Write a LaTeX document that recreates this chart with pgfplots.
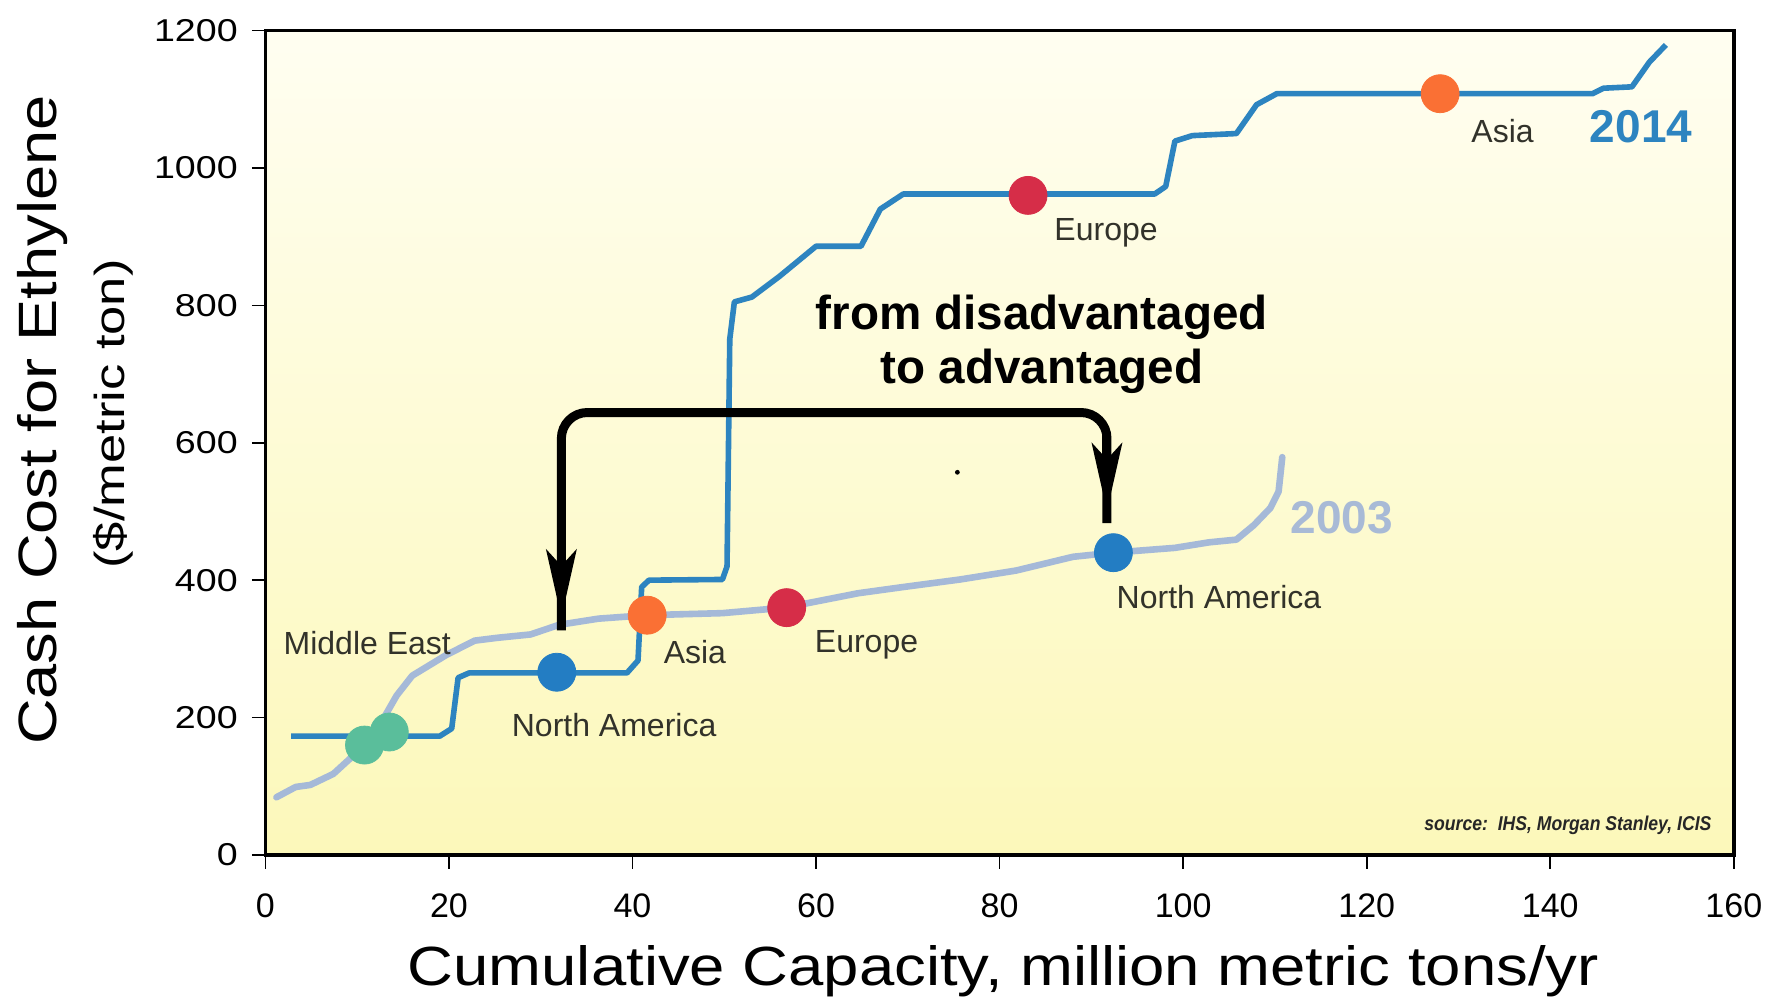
\documentclass[border=0pt]{standalone}
\usepackage{fontspec}
\setmainfont{Liberation Sans}
\newfontfamily\ytfont[FakeStretch=1.19]{Liberation Sans}
\newfontfamily\xlfont[FakeStretch=1.15]{Liberation Sans}
\newfontfamily\ylfont[FakeStretch=1.17]{Liberation Sans}
\newfontfamily\ylbfont[FakeStretch=1.25]{Liberation Sans}
\newfontfamily\srcfont[FakeStretch=0.88]{Liberation Sans}
\usepackage{pgfplots}
\pgfplotsset{compat=1.18}
\usetikzlibrary{arrows.meta}
\definecolor{bg top}{RGB}{255,254,241}
\definecolor{bg bot}{RGB}{252,248,186}
\definecolor{line14}{RGB}{45,132,192}
\definecolor{line03}{RGB}{165,185,216}
\definecolor{dotblue}{RGB}{35,125,195}
\definecolor{dotorange}{RGB}{250,112,52}
\definecolor{dotred}{RGB}{214,45,72}
\definecolor{dotgreen}{RGB}{90,190,155}
\definecolor{lbl}{RGB}{50,50,42}
\definecolor{y14}{RGB}{45,132,192}
\definecolor{y03}{RGB}{168,186,214}

\pgfplotstableread{
x y
2.8 173
19 173
20.3 184
21 258
22.2 265
39.4 265
40.6 283
41 390
41.8 400
49.8 401
50.3 420
50.6 751
51.1 805
53 812
56 842
60 886
64.9 886
67 940
69.5 962
96.9 962
98.1 973
99.1 1039
101 1047
105.8 1050
108 1092
110.2 1108
144.6 1108
145.8 1116
148.9 1118
150.8 1154
152.6 1179
}\curveA

\pgfplotstableread{
x y
1.2 84
3.3 99
4.9 102
7.4 118
9.2 140
10.8 160
12.5 190
14.3 232
16 261
19.7 291
22.8 312
25.2 316
28.9 321
32 335
36.3 344
41.5 349
49.8 352
56.6 360
64.6 381
69.5 390
75.7 401
81.8 414
88 434
92.3 440
99.1 447
102.8 455
105.8 459
107.7 480
109.5 505
110.4 529
110.8 579
}\curveB

\begin{document}
\begin{tikzpicture}
\begin{axis}[
  at={(0,0)}, anchor=origin,
  scale only axis,
  width=734.2pt, height=412.25pt,
  xmin=0, xmax=160, ymin=0, ymax=1200,
  xtick={0,20,...,160}, ytick={0,200,...,1200},
  tick align=outside, xtick pos=bottom, ytick pos=left,
  major tick length=6.8pt,
  tick style={black, line width=0.8pt},
  axis line style={black, line width=1.7pt},
  /pgf/number format/assume math mode=true,
  /pgf/number format/1000 sep={},
  xticklabel style={font=\fontsize{17}{20}\selectfont, yshift=-9pt},
  yticklabel style={font=\ytfont\fontsize{15.8}{18}\selectfont, xshift=-3.5pt},
  axis background/.style={shade, top color=bg top, bottom color=bg bot},
  clip=false,
]
\addplot[line03, line width=3.3pt, line join=round, line cap=round] table[x=x,y=y] {\curveB};
\addplot[line14, line width=2.8pt, line join=round] table[x=x,y=y] {\curveA};

% dots
\addplot[only marks, mark=*, mark size=9.5pt, dotgreen, mark options={draw=none}] coordinates {(10.8,160) (13.5,179)};
\addplot[only marks, mark=*, mark size=9.5pt, dotblue, mark options={draw=none}] coordinates {(31.75,266) (92.4,440)};
\addplot[only marks, mark=*, mark size=9.5pt, dotorange, mark options={draw=none}] coordinates {(41.6,349) (128,1108)};
\addplot[only marks, mark=*, mark size=9.5pt, dotred, mark options={draw=none}] coordinates {(56.8,360) (83.1,960)};

% labels
\begin{scope}[every node/.style={text=lbl, font=\fontsize{16}{18}\selectfont, inner sep=0pt}]
\node at (axis cs:11.1,309) {Middle East};
\node at (axis cs:38.0,189) {North America};
\node at (axis cs:46.8,296) {Asia};
\node at (axis cs:65.5,306) {Europe};
\node at (axis cs:103.9,376) {North America};
\node at (axis cs:91.6,906) {Europe};
\node at (axis cs:134.8,1054) {Asia};
\end{scope}
\node[text=y14, font=\bfseries\fontsize{23}{26}\selectfont, inner sep=0pt] at (axis cs:149.9,1060) {2014};
\node[text=y03, font=\bfseries\fontsize{23}{26}\selectfont, inner sep=0pt] at (axis cs:117.3,491) {2003};
\node[font=\bfseries\fontsize{23.8}{27}\selectfont, inner sep=0pt] at (axis cs:84.6,782) {from disadvantaged};
\node[font=\bfseries\fontsize{23.8}{27}\selectfont, inner sep=0pt] at (axis cs:84.6,704) {to advantaged};
\node[anchor=east, text=black!85, font=\srcfont\bfseries\itshape\fontsize{10}{12}\selectfont, inner sep=0pt] at (axis cs:157.6,43) {source:\, IHS, Morgan Stanley, ICIS};

% arrow bracket
\draw[black, line width=4.5pt, rounded corners=13pt] (axis cs:32.25,327) -- (axis cs:32.25,644) -- (axis cs:91.7,644) -- (axis cs:91.7,483);
\draw[black, line width=4.5pt, -{Stealth[length=34pt, width=15pt, inset=8pt]}] (axis cs:32.25,460) -- (axis cs:32.25,345);
\draw[black, line width=4.5pt, -{Stealth[length=34pt, width=15pt, inset=8pt]}] (axis cs:91.7,615) -- (axis cs:91.7,500);
\fill[black] (axis cs:75.4,557) circle (1.2pt);

% axis labels
\node[font=\xlfont\fontsize{27.6}{30}\selectfont, inner sep=0pt] at ([yshift=-58pt]rel axis cs:0.5025,0) {Cumulative Capacity, million metric tons/yr};
\node[rotate=90, font=\ylfont\fontsize{27}{30}\selectfont, inner sep=0pt] at ([xshift=-111.2pt]rel axis cs:0,0.5275) {Cash Cost for Ethylene};
\node[rotate=90, font=\ylbfont\fontsize{21}{24}\selectfont, inner sep=0pt] at ([xshift=-76.2pt]rel axis cs:0,0.535) {(\$/metric ton)};
\end{axis}
\pgfresetboundingbox
\useasboundingbox (-132.7pt,-75pt) rectangle (752.8pt,427.5pt);
\end{tikzpicture}
\end{document}
